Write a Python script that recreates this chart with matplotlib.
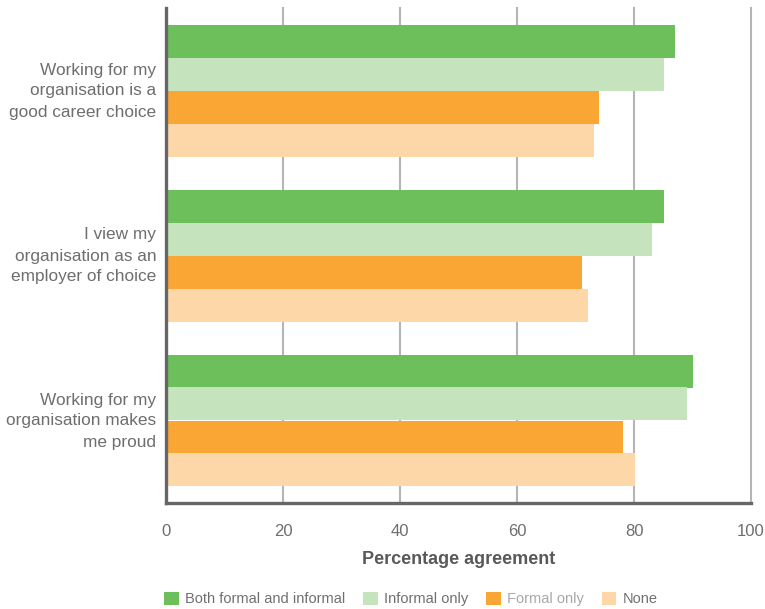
import numpy as np
import matplotlib
matplotlib.use("Agg")
from matplotlib import pyplot as plt
from matplotlib.patches import Patch
from matplotlib.transforms import ScaledTranslation

plt.rcParams['font.family'] = ['Liberation Sans', 'DejaVu Sans']

# statements, top to bottom
statements = [
	"Working for my\norganisation is a\ngood career choice",
	"I view my\norganisation as an\nemployer of choice",
	"Working for my\norganisation makes\nme proud",
]
series = ["Both formal and informal", "Informal only", "Formal only", "None"]
both_formal_informal = [87.0, 85.1, 90.1]
informal_only = [85.1, 83.1, 89.0]
formal_only = [74.0, 71.1, 78.1]
none = [73.2, 72.1, 80.2]
colours = ['#6dbf5b', '#c5e3bd', '#f9a634', '#fdd7a8']
xticks = [0, 20, 40, 60, 80, 100]

values = [both_formal_informal, informal_only, formal_only, none]

fig = plt.figure(figsize=(7.65, 6.09), dpi=100)
ax = fig.add_axes([166/765, 1-503/609, 585/765, 495/609])

h = 0.2
y = np.arange(len(statements))
for i, vals in enumerate(values):
	ax.barh(y + (i - 1.5)*h, vals, height=h, color=colours[i], zorder=2, linewidth=0)

ax.set_ylim(len(statements) - 0.5, -0.5)
ax.set_xlim(0, 100)
ax.set_xticks(xticks)
ax.set_xticklabels([str(v) for v in xticks], fontsize=12, color='#6e6e6e')
ax.set_yticks(y)
ax.set_yticklabels(statements, fontsize=12.4, color='#6e6e6e', linespacing=1.5, ha='right')
ax.tick_params(axis='x', length=0, pad=15)
ax.tick_params(axis='y', length=0, pad=7)
# nudge the statement labels up a little
shift = ScaledTranslation(0, 4/100, fig.dpi_scale_trans)
for lbl in ax.get_yticklabels():
	lbl.set_transform(lbl.get_transform() + shift)

for v in xticks[1:]:
	ax.axvline(v, color='#b5b5b9', lw=1.5, zorder=1, clip_on=False)

for s in ['top', 'right']:
	ax.spines[s].set_visible(False)
for s in ['left', 'bottom']:
	ax.spines[s].set_color('#666666')
	ax.spines[s].set_linewidth(2.4)
	ax.spines[s].set_zorder(3)

ax.set_xlabel("Percentage agreement", fontsize=13, fontweight='bold', color='#595959', labelpad=9)

handles = [Patch(facecolor=c, edgecolor='none') for c in colours]
leg = fig.legend(handles, series, loc='center', bbox_to_anchor=(411/765, 1-599/609), ncol=4,
	frameon=False, fontsize=10.5, handlelength=1.0, handleheight=1.0, handletextpad=0.45,
	columnspacing=1.2, borderaxespad=0)
for t, c in zip(leg.get_texts(), ['#707070', '#707070', '#a8a8a8', '#707070']):
	t.set_color(c)

fig.savefig('out.png', dpi=100)
